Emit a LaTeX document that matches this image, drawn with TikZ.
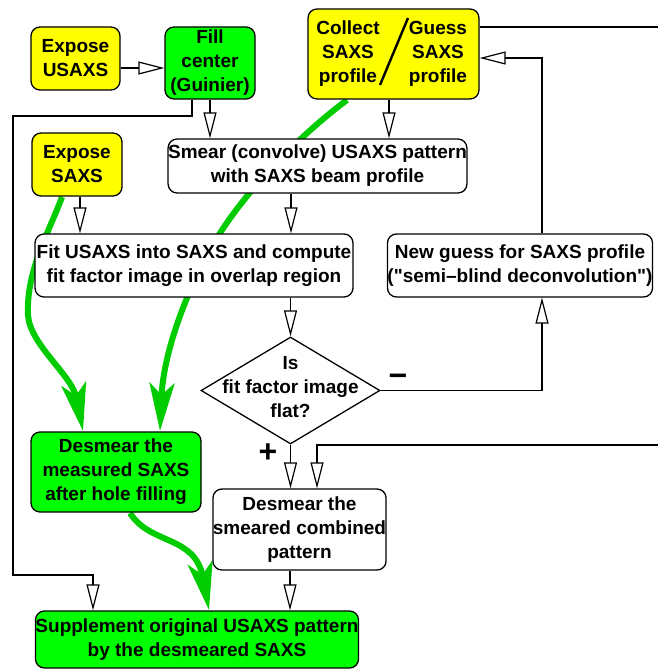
\documentclass[tikz,border=0pt]{standalone}
\usepackage{fontspec}
\setmainfont{Liberation Sans}
\usetikzlibrary{arrows.meta,shapes.geometric}
\definecolor{yel}{HTML}{FFFF00}
\definecolor{grn}{HTML}{00FF00}
\definecolor{dgrn}{HTML}{00CC00}
\begin{document}
\begin{tikzpicture}[x=1pt,y=-1pt,
  txt/.style={font=\bfseries\fontsize{19}{24}\selectfont, align=center, inner sep=0pt},
  box/.style={txt, draw, rounded corners=9pt, line width=1.3pt},
  arr/.style={line width=1.2pt, -{Triangle[open,length=26pt,width=13pt]}},
  plain/.style={line width=1.2pt},
  gflow/.style={draw=dgrn, line width=6pt, -{Stealth[length=48pt,width=25pt,inset=12pt]}},
  sign/.style={font=\bfseries\fontsize{32}{32}\selectfont, inner sep=0pt}]
\useasboundingbox (0,0) rectangle (658,669);

% green flows (behind the boxes)
\draw[gflow] (62,197) .. controls (50,230) and (26,270) .. (28,315)
  .. controls (30,345) and (72,375) .. (83,431);
\draw[gflow] (347,100) .. controls (300,135) and (240,195) .. (210,250)
  .. controls (180,305) and (163,360) .. (160,431);
\draw[gflow] (130,513) .. controls (150,545) and (195,535) .. (209,610);

% boxes
\node[box, fill=yel, minimum width=89pt, minimum height=63pt] (eu) at (75.5,58.5) {Expose\\USAXS};
\node[box, fill=grn, minimum width=90pt, minimum height=72pt] (fc) at (210,63) {Fill\\center\\(Guinier)};
\node[box, fill=yel, minimum width=171pt, minimum height=90pt,
  label={[txt, xshift=-45.5pt]center:{Collect\\SAXS\\profile}},
  label={[txt, xshift=44.5pt]center:{Guess\\SAXS\\profile}}] (cg) at (393.5,54) {};
\draw[line width=2.4pt] (408,18) -- (380,85);
\node[box, fill=yel, minimum width=90pt, minimum height=63pt] (es) at (77,164.5) {Expose\\SAXS};
\node[box, fill=white, minimum width=297pt, minimum height=54pt] (sm) at (317.5,166) {Smear (convolve) USAXS pattern\\with SAXS beam profile};
\node[box, fill=white, minimum width=318pt, minimum height=63pt] (fit) at (194,265.5) {Fit USAXS into SAXS and compute\\fit factor image in overlap region};
\node[box, fill=white, minimum width=260pt, minimum height=63pt] (ng) at (520,265.5) {New guess for SAXS profile\\(\textquotedbl semi--blind deconvolution\textquotedbl)};
\node[draw, diamond, fill=white, minimum width=179pt, minimum height=107pt, inner sep=0pt, line width=1.3pt,
  label={[txt, yshift=3pt]center:{Is\\fit factor image\\flat?}}] (dia) at (290.5,390.5) {};
\node[box, fill=grn, minimum width=170pt, minimum height=80pt] (dm) at (116,472) {Desmear the\\measured SAXS\\after hole filling};
\node[box, fill=white, minimum width=171pt, minimum height=81pt] (ds) at (299.5,529.5) {Desmear the\\smeared combined\\pattern};
\node[box, fill=grn, minimum width=322pt, minimum height=57pt] (sup) at (197,639.5) {Supplement original USAXS pattern\\by the desmeared SAXS};

\node[sign] (minus) at (398,380) {−};
\node[sign] (plus) at (268,453) {+};

% connectors
\draw[arr] ([yshift=-9.5pt]eu.east) -- ([yshift=-5pt]fc.west);
\draw[arr] (210,0 |- fc.south) -- (210,0 |- sm.north);
\draw[arr] (192,0 |- fc.south) -- (192,116) -- (13,116) -- (13,575) -- (93,575) -- (93,0 |- sup.north);
\draw[arr] (389,0 |- cg.south) -- (389,0 |- sm.north);
\draw[arr] (80,0 |- es.south) -- (80,0 |- fit.north);
\draw[arr] (291,0 |- sm.south) -- (291,0 |- fit.north);
\draw[arr] (dia.north |- fit.south) -- (dia.north);
\draw[arr] (dia.south) -- (dia.south |- ds.north);
\coordinate (r2) at (658,445);
\draw[arr] (r2) -- (317,445) -- (317,0 |- ds.north);
\draw[arr] (290,0 |- ds.south) -- (290,0 |- sup.north);
\coordinate (r1) at (658,27);
\draw[plain] (r1) -- (r1 -| cg.east);
\draw[arr] (542,0 |- ng.north) -- (542,58) -- (cg.east |- 542,58);
\draw[arr] (dia.east) -- (542,0 |- dia.east) -- (542,0 |- ng.south);
\end{tikzpicture}
\end{document}
